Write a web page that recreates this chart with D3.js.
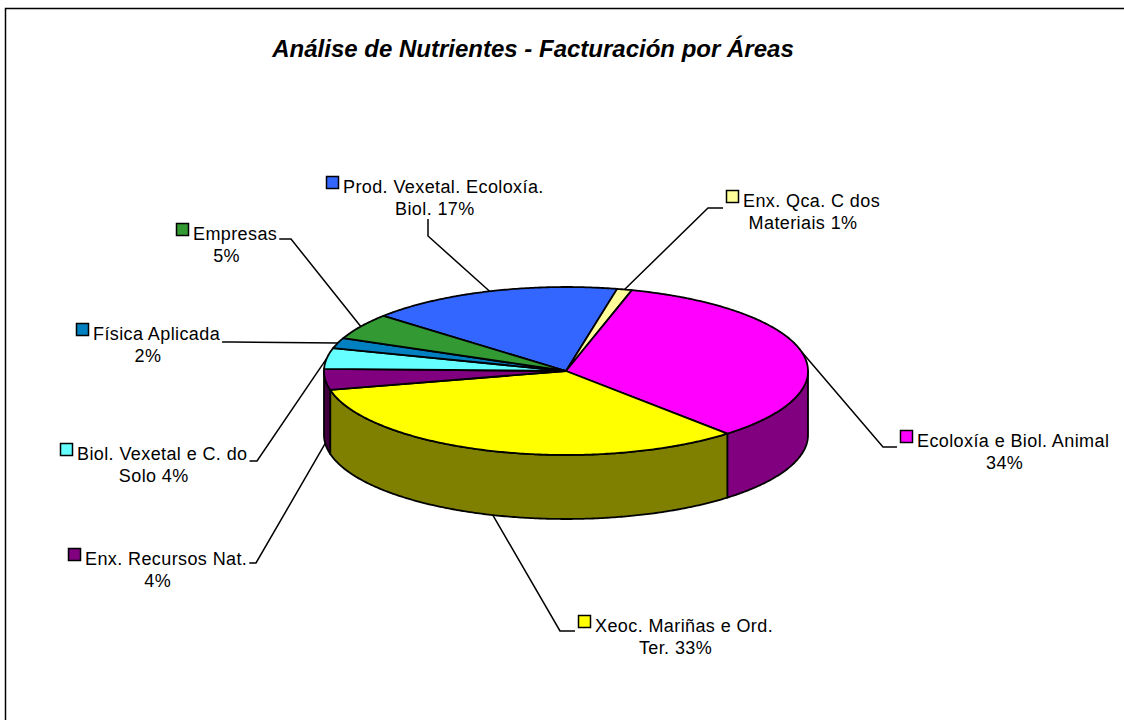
<!DOCTYPE html>
<html>
<head>
<meta charset="utf-8">
<script src="https://cdn.jsdelivr.net/npm/d3@7"></script>
<style>
  body { margin: 0; background: #fff; }
  svg text { font-family: "Liberation Sans", Arial, sans-serif; }
</style>
</head>
<body>
<div id="chart"></div>
<script>
// Chart data
const categories = [
  "Prod. Vexetal. Ecoloxía. Biol.",
  "Enx. Qca. C dos Materiais",
  "Ecoloxía e Biol. Animal",
  "Xeoc. Mariñas e Ord. Ter.",
  "Enx. Recursos Nat.",
  "Biol. Vexetal e C. do Solo",
  "Física Aplicada",
  "Empresas"
];
const values = [17, 1, 34, 33, 4, 4, 2, 5];
const topColors = ["#3366ff", "#ffff99", "#ff00ff", "#ffff00", "#800080", "#66ffff", "#0080c0", "#339933"];
const sideColors = ["#1a3380", "#80804d", "#800080", "#808000", "#400040", "#338080", "#004060", "#1a4d1a"];
const title = "Análise de Nutrientes - Facturación por Áreas";

// label placement (marker left, first baseline, wrap width, leader elbow)
const labelLayout = [
  { x: 326, y: 193, wrap: 230, side: "top",   elbow: [428, 236] },
  { x: 726, y: 207, wrap: 150, side: "right", elbow: [708, 208] },
  { x: 900, y: 447, wrap: 200, side: "right", elbow: [883, 447] },
  { x: 578, y: 632, wrap: 185, side: "right", elbow: [560, 631] },
  { x: 68,  y: 565, wrap: 165, side: "left",  elbow: [256, 563] },
  { x: 60,  y: 460, wrap: 172, side: "left",  elbow: [257, 461] },
  { x: 76,  y: 340, wrap: 135, side: "left",  elbow: [232, 342] },
  { x: 176, y: 240, wrap: 90,  side: "left",  elbow: [291, 239] }
];

const width = 1124, height = 720;
const cx = 566, cy = 371, rx = 242, ry = 84, depth = 64;
const startAngle = -49 * Math.PI / 180;

const svg = d3.select("#chart").append("svg")
    .attr("width", width)
    .attr("height", height);

// frame
svg.append("rect")
    .attr("x", 5.5).attr("y", 8.5)
    .attr("width", width + 10).attr("height", height)
    .attr("fill", "none").attr("stroke", "#000").attr("stroke-width", 1.5);

svg.append("text")
    .attr("x", 533).attr("y", 57)
    .attr("text-anchor", "middle")
    .style("font-size", "24px")
    .style("font-weight", "bold")
    .style("font-style", "italic")
    .text(title);

const pie = d3.pie().sort(null)
    .startAngle(startAngle)
    .endAngle(startAngle + 2 * Math.PI);
const arcs = pie(values);

const pt = (a, dy = 0) => [cx + rx * Math.sin(a), cy - ry * Math.cos(a) + dy];
const line = d3.line();

function arcPoints(a0, a1, dy) {
    const n = Math.max(2, Math.ceil(Math.abs(a1 - a0) / 0.01));
    return d3.range(n + 1).map(i => pt(a0 + (a1 - a0) * i / n, dy));
}

// side walls (front half only)
const walls = svg.append("g");
arcs.forEach((d, i) => {
    const lo = Math.max(d.startAngle, Math.PI / 2);
    const hi = Math.min(d.endAngle, 3 * Math.PI / 2);
    if (hi <= lo) return;
    const pts = arcPoints(lo, hi, 0).concat(arcPoints(hi, lo, depth));
    walls.append("path")
        .attr("d", line(pts) + "Z")
        .attr("fill", sideColors[i])
        .attr("stroke", "#000")
        .attr("stroke-width", 1.8)
        .attr("stroke-linejoin", "round");
});

// top faces
const tops = svg.append("g");
arcs.forEach((d, i) => {
    const pts = [[cx, cy]].concat(arcPoints(d.startAngle, d.endAngle, 0));
    tops.append("path")
        .attr("d", line(pts) + "Z")
        .attr("fill", topColors[i])
        .attr("stroke", "#000")
        .attr("stroke-width", 1.8)
        .attr("stroke-linejoin", "round");
});

// labels with leader lines
const fmt = d3.format(".0%");
const total = d3.sum(values);
const labels = svg.append("g");

arcs.forEach((d, i) => {
    const lay = labelLayout[i];
    const words = (categories[i] + " " + fmt(values[i] / total)).split(" ");
    const g = labels.append("g");

    const measure = g.append("text")
        .style("font-size", "18px").style("letter-spacing", "0.4px");
    let first = words[0], k = 1;
    while (k < words.length) {
        measure.text(first + " " + words[k]);
        if (measure.node().getComputedTextLength() > lay.wrap) break;
        first += " " + words[k];
        k++;
    }
    measure.text(first);
    const w1 = measure.node().getComputedTextLength();
    measure.remove();
    const rest = words.slice(k).join(" ");

    g.append("rect")
        .attr("x", lay.x + 0.5).attr("y", lay.y - 16.5)
        .attr("width", 12).attr("height", 12)
        .attr("fill", topColors[i])
        .attr("stroke", "#000").attr("stroke-width", 1.5);

    g.append("text")
        .attr("x", lay.x + 17).attr("y", lay.y)
        .style("font-size", "18px").style("letter-spacing", "0.4px")
        .text(first);

    const center = lay.x + (17 + w1) / 2;
    if (rest) {
        g.append("text")
            .attr("x", center).attr("y", lay.y + 21.5)
            .attr("text-anchor", "middle")
            .style("font-size", "18px").style("letter-spacing", "0.4px")
            .text(rest);
    }

    // anchor on the pie: front slices hook the bottom of the wall
    const mid = (d.startAngle + d.endAngle) / 2;
    const front = mid > Math.PI / 2 && mid < 3 * Math.PI / 2;
    const anchor = pt(mid, front ? depth : 0);

    let start;
    if (lay.side === "left") start = [lay.x + 17 + w1 + 2, lay.elbow[1]];
    else if (lay.side === "right") start = [lay.x - 3, lay.elbow[1]];
    else start = [lay.elbow[0], lay.y + 26];

    labels.append("path")
        .attr("d", line([start, lay.elbow, anchor]))
        .attr("fill", "none")
        .attr("stroke", "#000")
        .attr("stroke-width", 1.5);
});
</script>
</body>
</html>
